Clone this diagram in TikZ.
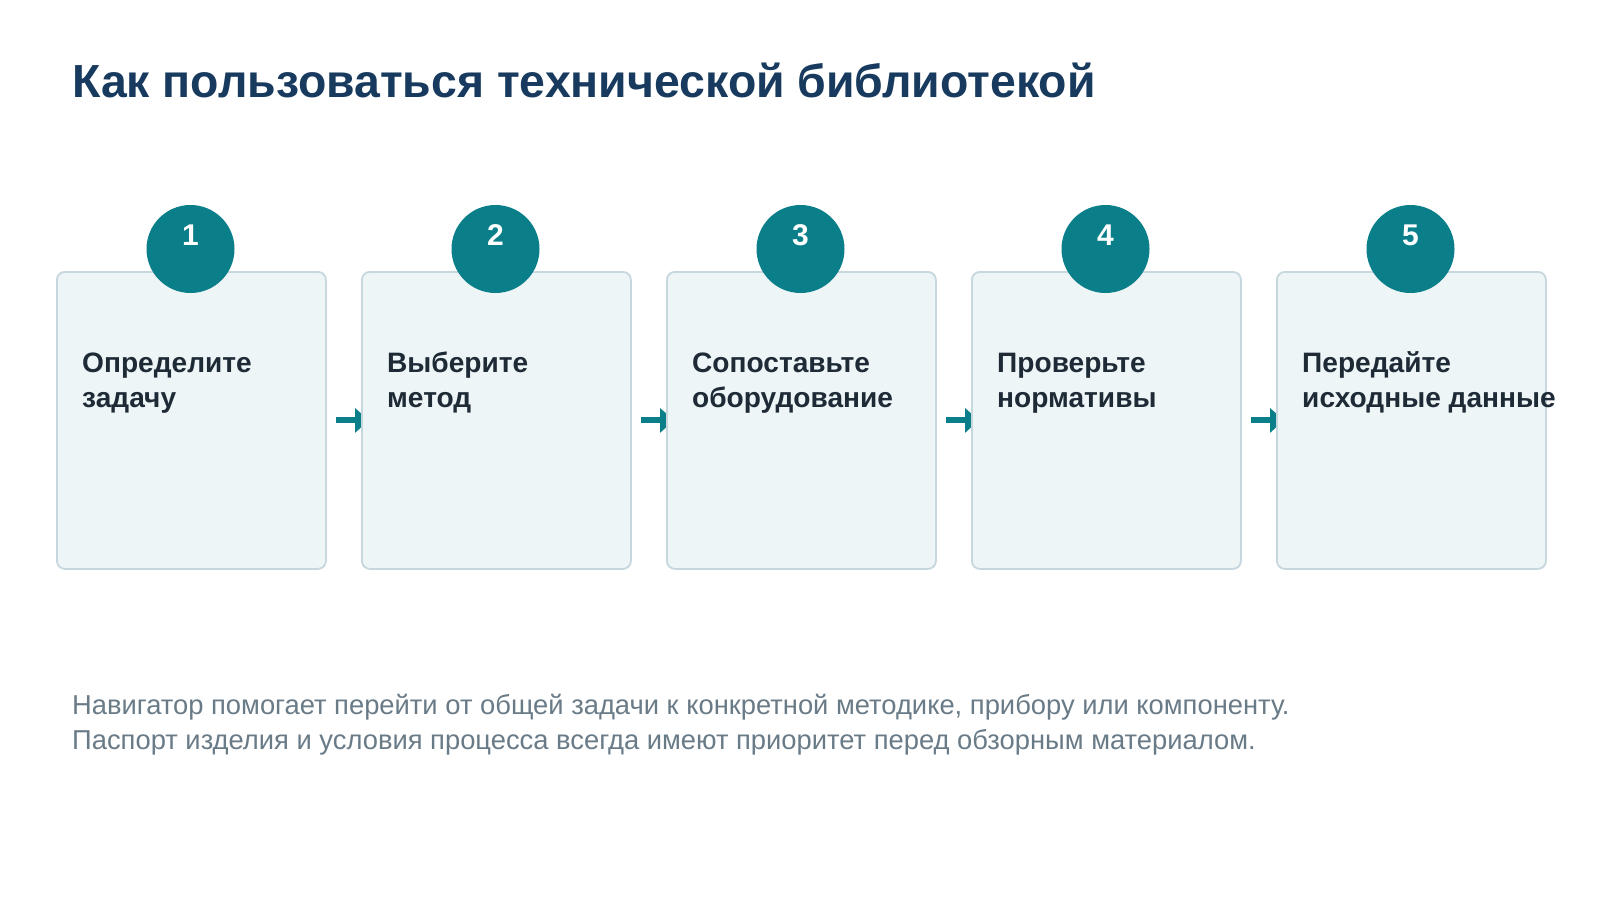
\documentclass[tikz,border=0pt]{standalone}
\usepackage{fontspec}
\setmainfont{Liberation Sans}
\usetikzlibrary{arrows.meta,positioning}
\pgfdeclarelayer{bg}
\pgfsetlayers{bg,main}
\definecolor{titlec}{HTML}{173A5E}
\definecolor{stepc}{HTML}{1E2B37}
\definecolor{footc}{HTML}{6A7B88}
\definecolor{teal}{HTML}{0A7F8A}
\definecolor{boxfill}{HTML}{EEF5F7}
\definecolor{boxline}{HTML}{C6D7DD}
\tikzset{
  stepbox/.style={draw=boxline, line width=1.8pt, fill=boxfill, rounded corners=8pt,
    minimum width=269pt, minimum height=297pt, inner sep=0pt},
  numcirc/.style={circle, fill=teal, minimum size=88pt, inner sep=0pt},
  numtext/.style={text=white, font=\fontsize{30}{30}\selectfont\bfseries, inner sep=0pt, anchor=base},
  steptext/.style={text=stepc, font=\fontsize{28.1}{35}\selectfont\bfseries, inner sep=0pt, anchor=base west, align=left},
  flowarrow/.style={draw=teal, line width=6pt, -{Triangle[length=14pt,width=24pt]}},
}
\begin{document}
\begin{tikzpicture}[x=1pt,y=-1pt]
\useasboundingbox (0,0) rectangle (1600,900);
\node[anchor=base west, inner sep=0pt, text=titlec, font=\fontsize{46.4}{50}\selectfont\bfseries] (title) at (72,97) {Как пользоваться технической библиотекой};
\foreach \i/\t [count=\k from 0] in {1/{Определите\\задачу},2/{Выберите\\метод},3/{Сопоставьте\\оборудование},4/{Проверьте\\нормативы},5/{Передайте\\исходные данные}}{
  \node[stepbox, anchor=north west] (b\i) at ({56+305*\k},271) {};
  \node[numcirc] (c\i) at ({190.5+305*\k},249) {};
  \node[numtext] (n\i) at ({190.5+305*\k},245) {\i};
  \node[steptext] (s\i) at ({82+305*\k},407) {\t};
}
\begin{pgfonlayer}{bg}
\fill[white] (0,0) rectangle (1600,900);
\foreach \i/\j in {1/2,2/3,3/4,4/5}{
  \draw[flowarrow] ([xshift=9pt]b\i.east) -- ([xshift=8pt]b\j.west);
}
\end{pgfonlayer}
\node[anchor=base west, inner sep=0pt, text=footc, font=\fontsize{27.35}{35}\selectfont, align=left] (foot) at (72,749) {Навигатор помогает перейти от общей задачи к конкретной методике, прибору или компоненту.\\Паспорт изделия и условия процесса всегда имеют приоритет перед обзорным материалом.};
\end{tikzpicture}
\end{document}
